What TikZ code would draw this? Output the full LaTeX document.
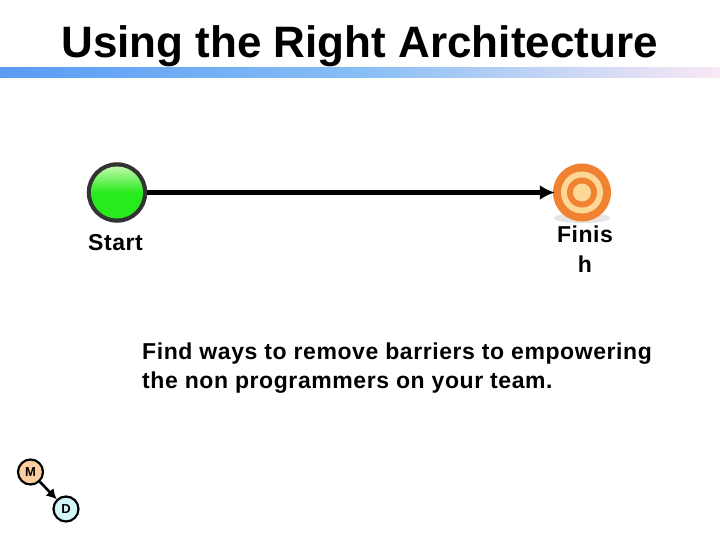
\documentclass[tikz,border=0pt]{standalone}
\usepackage{fontspec}
\setmainfont{Liberation Sans}
\newfontfamily\spacedfont[LetterSpace=2.5]{Liberation Sans}
\usetikzlibrary{arrows.meta}
\definecolor{barL}{RGB}{90,155,245}
\definecolor{barM}{RGB}{135,190,245}
\definecolor{barR}{RGB}{250,232,245}
\definecolor{ringO}{RGB}{240,130,50}
\definecolor{ringL}{RGB}{252,215,150}
\definecolor{mfill}{RGB}{252,205,160}
\definecolor{dfill}{RGB}{210,245,250}
\definecolor{gbody}{RGB}{40,235,30}
\definecolor{gedge}{RGB}{30,190,30}
\definecolor{ghigh}{RGB}{190,250,170}
\tikzset{
  x=1pt,y=-1pt,
  lbl/.style={font=\spacedfont\bfseries\fontsize{23}{29}\selectfont,text=black,inner sep=0pt},
  small/.style={circle,draw=black,line width=2.2pt,minimum size=25pt,inner sep=0pt,font=\bfseries\fontsize{13}{13}\selectfont}
}
\begin{document}
\begin{tikzpicture}
\useasboundingbox (0,0) rectangle (720,540);
\fill[white] (0,0) rectangle (720,540);
\node[inner sep=0pt,anchor=base,font=\bfseries\fontsize{44}{44}\selectfont] (title) at (359.5,58) {Using the Right Architecture};
\shade[left color=barL,right color=barM] (0,68) rectangle (360,78);
\shade[left color=barM,right color=barR] (360,68) rectangle (720,78);
% start
\node[circle,minimum size=56pt,inner sep=0pt,draw=black!80,line width=4.5pt,fill=gedge] (start) at (117,192.5) {};
\shade[top color=ghigh,bottom color=gbody,middle color=gbody] (117,192.5) circle (26);
% finish
\fill[gray!20] (582,218) ellipse (28 and 5);
\node[circle,minimum size=58pt,inner sep=0pt,fill=ringO] (finish) at (582,192.5) {};
\fill[ringL] (582,192.5) circle (21);
\fill[ringO] (582,192.5) circle (15);
\fill[ringL] (582,192.5) circle (9);
\draw[line width=4.5pt,-{Latex[length=15pt,width=15pt]},shorten >=-2pt] (start) -- (finish);
\node[lbl,anchor=base] (startlbl) at (115.5,251) {Start};
\node[lbl,anchor=base] (finishlbl) at (585,243) {Finis};
\node[lbl,anchor=base] (finishlbltwo) at (585,272) {h};
\node[lbl,anchor=base west] (bodyone) at (142,359) {Find ways to remove barriers to empowering};
\node[lbl,anchor=base west] (bodytwo) at (142,388) {the non programmers on your team.};
% M D
\node[small,fill=mfill] (m) at (30.5,472) {M};
\node[small,fill=dfill] (d) at (66,509) {D};
\draw[line width=2.6pt,-{Latex[length=10pt,width=11pt]}] (m) -- (d);
\end{tikzpicture}
\end{document}
